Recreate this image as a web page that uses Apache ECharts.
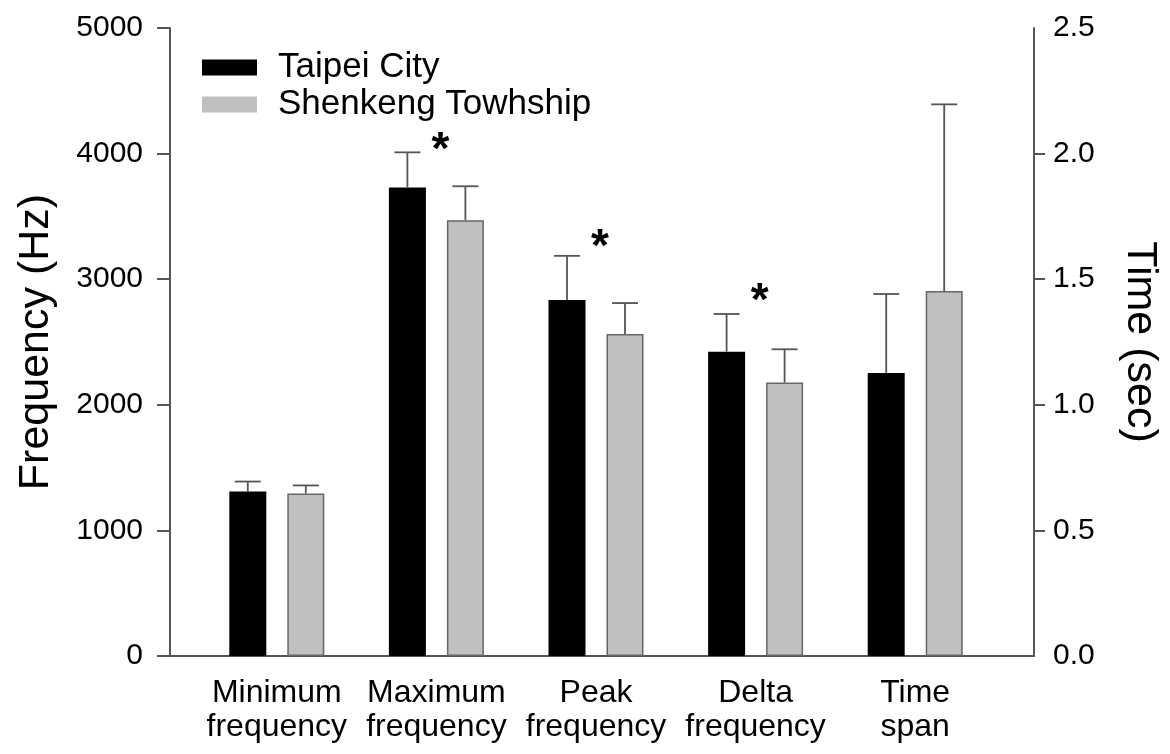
<!DOCTYPE html>
<html>
<head>
<meta charset="utf-8">
<script src="https://cdn.jsdelivr.net/npm/echarts@6/dist/echarts.min.js"></script>
<style>
html,body{margin:0;padding:0;background:#fff;}
#chart{width:1170px;height:754px;}
</style>
</head>
<body>
<div id="chart"></div>
<script>
// ---- data ----
var categories = ['Minimum\nfrequency', 'Maximum\nfrequency', 'Peak\nfrequency', 'Delta\nfrequency', 'Time\nspan'];
var seriesNames = ['Taipei City', 'Shenkeng Towhship'];
// frequency (Hz), first four categories, left axis
var taipeiFreq = [1310, 3730, 2834, 2423];
var taipeiFreqSD = [79, 280, 352, 300];
var shenkengFreq = [1294, 3470, 2564, 2177];
var shenkengFreqSD = [64, 270, 246, 265];
// time span (sec), last category, right axis
var taipeiTime = [1.127];
var taipeiTimeSD = [0.314];
var shenkengTime = [1.453];
var shenkengTimeSD = [0.743];
// significance markers (category index, height in Hz)
var sigIndex = [1, 2, 3];
var sigHeight = [4100, 3330, 2900];
var leftTicks = [0, 1000, 2000, 3000, 4000, 5000];
var rightTicks = [0, 0.5, 1.0, 1.5, 2.0, 2.5];

// ---- styling constants ----
var FONT = 'Liberation Sans, Arial, sans-serif';
var AXIS_COLOR = '#555';
var BAR_W = 37, BAR_GAP_PX = 21;
var HALF = (BAR_W + BAR_GAP_PX) / 2;
var CAP_HALF = 13;
var ERR_COLOR = '#555';

var nFreq = taipeiFreq.length;
function padFreq(arr) { var out = arr.slice(); for (var i = nFreq; i < categories.length; i++) out.push('-'); return out; }
function padTime(arr) { var out = []; for (var i = 0; i < nFreq; i++) out.push('-'); return out.concat(arr); }
function errData(means, sds, start) { return means.map(function (m, i) { return [start + i, m, sds[i]]; }); }

function errRender(sign) {
  return function (params, api) {
    var x = api.value(0), m = api.value(1), sd = api.value(2);
    var b = api.coord([x, m]);
    var t = api.coord([x, m + sd]);
    var cx = b[0] + sign * HALF;
    var st = { stroke: ERR_COLOR, lineWidth: 1.8 };
    return {
      type: 'group',
      children: [
        { type: 'line', shape: { x1: cx, y1: b[1], x2: cx, y2: t[1] }, style: st },
        { type: 'line', shape: { x1: cx - CAP_HALF, y1: t[1], x2: cx + CAP_HALF, y2: t[1] }, style: st }
      ]
    };
  };
}

var SIG_FONT = 46;
function sigRender(params, api) {
  var p = api.coord([api.value(0), api.value(1)]);
  return {
    type: 'text',
    x: p[0] + 4,
    y: p[1] + SIG_FONT * 0.22,
    style: { text: '*', fontSize: SIG_FONT, fontWeight: 'bold', fontFamily: FONT, fill: '#000', align: 'center', verticalAlign: 'middle' }
  };
}

var chart = echarts.init(document.getElementById('chart'), null, { renderer: 'canvas' });
var option = {
  animation: false,
  backgroundColor: '#fff',
  textStyle: { fontFamily: FONT },
  legend: {
    data: seriesNames,
    icon: 'rect',
    orient: 'vertical',
    left: 202,
    top: 50,
    padding: 0,
    itemWidth: 55,
    itemHeight: 16,
    itemGap: 2,
    itemStyle: { borderWidth: 0 },
    textStyle: { fontSize: 35, lineHeight: 32, color: '#000', fontFamily: FONT, padding: [0, 0, 0, 16] }
  },
  grid: [
    { left: 170, right: 136, top: 28, bottom: 98 },
    { left: 197, right: 175, top: 28, bottom: 98 }
  ],
  xAxis: [
    { gridIndex: 0, type: 'category', data: [''], position: 'bottom',
      axisLine: { show: true, lineStyle: { color: AXIS_COLOR, width: 2 } }, axisTick: { show: false }, axisLabel: { show: false }, splitLine: { show: false } },
    { gridIndex: 0, type: 'category', data: [''], position: 'top',
      axisLine: { show: true, lineStyle: { color: AXIS_COLOR, width: 2 } }, axisTick: { show: false }, axisLabel: { show: false }, splitLine: { show: false } },
    { gridIndex: 1, type: 'category', data: categories, position: 'bottom',
      axisLine: { show: false }, axisTick: { show: false },
      axisLabel: { fontSize: 32, lineHeight: 34, color: '#000', margin: 20, fontFamily: FONT, interval: 0 } },
    { gridIndex: 1, type: 'category', data: categories, show: false }
  ],
  yAxis: [
    { gridIndex: 0, type: 'value', position: 'left', min: leftTicks[0], max: leftTicks[leftTicks.length - 1], interval: 1000,
      name: 'Frequency (Hz)', nameLocation: 'middle', nameGap: 112, nameRotate: 90,
      nameTextStyle: { fontSize: 43, color: '#000', fontFamily: FONT },
      axisLine: { show: true, lineStyle: { color: AXIS_COLOR, width: 2 } },
      axisTick: { show: true, inside: false, length: 13, lineStyle: { color: AXIS_COLOR, width: 2 } },
      axisLabel: { fontSize: 30, color: '#000', margin: 27, fontFamily: FONT, formatter: function (v) { return String(v); } },
      splitLine: { show: false } },
    { gridIndex: 0, type: 'value', position: 'right', min: rightTicks[0], max: rightTicks[rightTicks.length - 1], interval: 0.5,
      name: 'Time (sec)', nameLocation: 'middle', nameGap: 84, nameRotate: -90,
      nameTextStyle: { fontSize: 43, color: '#000', fontFamily: FONT },
      axisLine: { show: true, lineStyle: { color: AXIS_COLOR, width: 2 } },
      axisTick: { show: true, inside: false, length: 11, lineStyle: { color: AXIS_COLOR, width: 2 }, customValues: rightTicks.slice(1, -1) },
      axisLabel: { fontSize: 30, color: '#000', margin: 19, fontFamily: FONT, formatter: function (v) { return v.toFixed(1); } },
      splitLine: { show: false } },
    { gridIndex: 1, type: 'value', min: leftTicks[0], max: leftTicks[leftTicks.length - 1], show: false, splitLine: { show: false } },
    { gridIndex: 1, type: 'value', min: rightTicks[0], max: rightTicks[rightTicks.length - 1], show: false, splitLine: { show: false } }
  ],
  series: [
    { name: seriesNames[0], type: 'bar', xAxisIndex: 2, yAxisIndex: 2, data: padFreq(taipeiFreq),
      barWidth: BAR_W, barGap: (BAR_GAP_PX / BAR_W * 100) + '%',
      itemStyle: { color: '#000', borderColor: '#000', borderWidth: 0 } },
    { name: seriesNames[1], type: 'bar', xAxisIndex: 2, yAxisIndex: 2, data: padFreq(shenkengFreq),
      barWidth: BAR_W, barGap: (BAR_GAP_PX / BAR_W * 100) + '%',
      itemStyle: { color: '#c0c0c0', borderColor: '#666', borderWidth: 1.5 } },
    { name: seriesNames[0], type: 'bar', xAxisIndex: 3, yAxisIndex: 3, data: padTime(taipeiTime),
      barWidth: BAR_W, barGap: (BAR_GAP_PX / BAR_W * 100) + '%',
      itemStyle: { color: '#000', borderColor: '#000', borderWidth: 0 } },
    { name: seriesNames[1], type: 'bar', xAxisIndex: 3, yAxisIndex: 3, data: padTime(shenkengTime),
      barWidth: BAR_W, barGap: (BAR_GAP_PX / BAR_W * 100) + '%',
      itemStyle: { color: '#c0c0c0', borderColor: '#666', borderWidth: 1.5 } },
    { name: 'errT', type: 'custom', xAxisIndex: 2, yAxisIndex: 2, renderItem: errRender(-1), data: errData(taipeiFreq, taipeiFreqSD, 0), z: 3 },
    { name: 'errS', type: 'custom', xAxisIndex: 2, yAxisIndex: 2, renderItem: errRender(1), data: errData(shenkengFreq, shenkengFreqSD, 0), z: 3 },
    { name: 'errTt', type: 'custom', xAxisIndex: 3, yAxisIndex: 3, renderItem: errRender(-1), data: errData(taipeiTime, taipeiTimeSD, nFreq), z: 3 },
    { name: 'errSt', type: 'custom', xAxisIndex: 3, yAxisIndex: 3, renderItem: errRender(1), data: errData(shenkengTime, shenkengTimeSD, nFreq), z: 3 },
    { name: 'sig', type: 'custom', xAxisIndex: 2, yAxisIndex: 2, renderItem: sigRender,
      data: sigIndex.map(function (c, i) { return [c, sigHeight[i]]; }), z: 4 }
  ]
};
chart.setOption(option);
</script>
</body>
</html>
